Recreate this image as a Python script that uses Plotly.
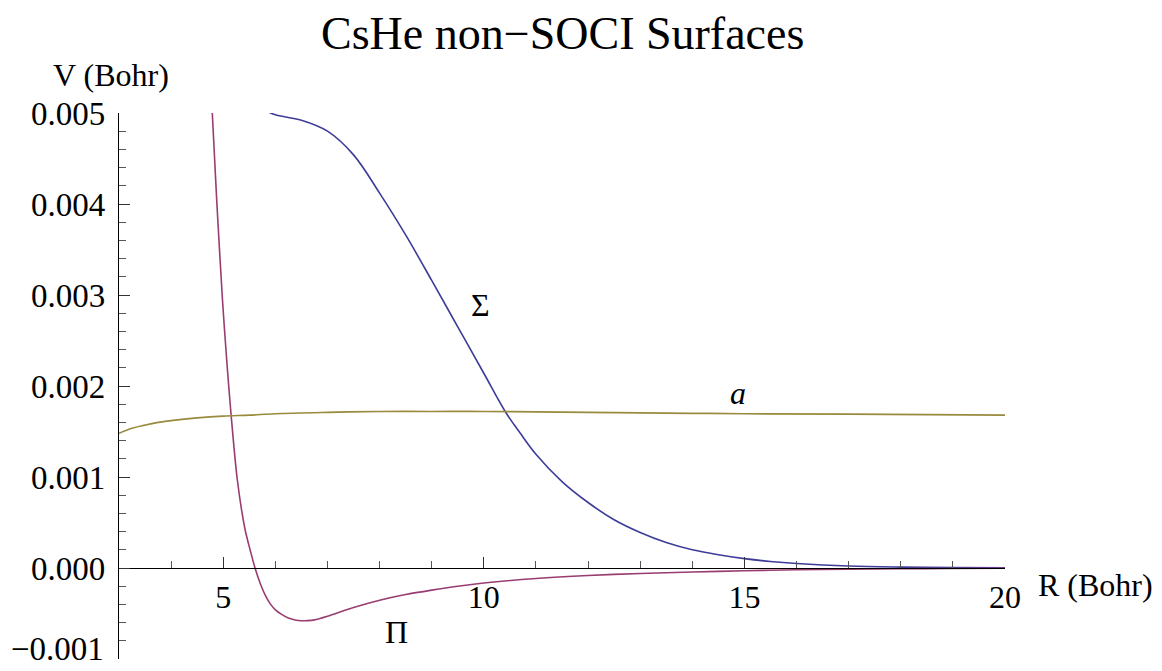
import plotly.graph_objects as go

# ---- data ----
sigma_r = [5.87, 6.0, 6.5, 7.0, 7.5, 8.0, 8.5, 9.0, 9.5, 10.0, 10.41, 10.7, 11.0,
           11.5, 12.0, 12.5, 13.0, 13.5, 14.0, 14.5, 15.0, 15.5, 16.0, 17.0, 18.0, 19.0, 20.0]
sigma_v = [0.00501, 0.00498, 0.00492, 0.00480, 0.00454, 0.00412, 0.00366, 0.00316,
           0.00265, 0.00214, 0.00172, 0.00148, 0.00125, 0.00095, 0.00072, 0.00053,
           0.00039, 0.00028, 0.00020, 0.000145, 0.000103, 0.000072, 0.00005, 0.000022,
           0.00001, 0.000004, 0.000002]

pi_r = [4.79, 4.875, 4.985, 5.07, 5.15, 5.27, 5.42, 5.52, 5.61, 5.71, 5.82, 5.91, 6.0,
        6.12, 6.25, 6.38, 6.5, 6.62, 6.75, 7.0, 7.5, 8.0, 8.5, 9.0, 9.5, 10.0, 11.0, 12.0,
        13.0, 14.0, 15.0, 16.0, 17.0, 18.0, 19.0, 20.0]
pi_v = [0.00500, 0.00404, 0.00295, 0.00226, 0.00169, 0.00097, 0.00042, 0.00019, 0.0,
        -0.00017, -0.000315, -0.0004, -0.00046, -0.00051, -0.00055, -0.000572, -0.00058,
        -0.000578, -0.00057, -0.00053, -0.000435, -0.000355, -0.000292, -0.000243,
        -0.0002, -0.000165, -0.000115, -0.000082, -0.00006, -0.000044, -0.00003,
        -0.00002, -0.000013, -0.000008, -0.000005, -0.000003]

a_r = [3.0, 3.25, 3.5, 3.75, 4.0, 4.5, 5.0, 5.5, 6.0, 7.0, 8.0, 9.0, 10.0, 11.0, 12.0,
       13.0, 14.0, 15.0, 17.0, 20.0]
a_v = [0.00148, 0.001535, 0.00157, 0.00160, 0.00162, 0.00165, 0.00167, 0.00168, 0.001695,
       0.00171, 0.00172, 0.00172, 0.00172, 0.001715, 0.00171, 0.001705, 0.00170, 0.001695,
       0.00169, 0.00168]

x_range = [3, 20]
y_range = [-0.001, 0.005]
y_ticks = [-0.001, 0.0, 0.001, 0.002, 0.003, 0.004, 0.005]
y_ticktext = ["\u22120.001", "0.000", "0.001", "0.002", "0.003", "0.004", "0.005"]
x_ticks = [5, 10, 15, 20]

title = "CsHe non\u2212SOCI Surfaces"
x_label = "R (Bohr)"
y_label = "V (Bohr)"

# curve labels (name, r, v)
labels = [("\u03a3", 9.93, 0.00289), ("<i>a</i>", 14.88, 0.00192), ("\u03a0", 8.32, -0.000703)]

FONT = "Liberation Serif, Times New Roman, serif"
C_SIGMA = "#3d3d99"
C_PI = "#993d71"
C_A = "#998b3d"

fig = go.Figure()
fig.add_trace(go.Scatter(x=sigma_r, y=sigma_v, mode="lines",
                         line=dict(color=C_SIGMA, width=1.6, shape="spline", smoothing=1.0)))
fig.add_trace(go.Scatter(x=pi_r, y=pi_v, mode="lines",
                         line=dict(color=C_PI, width=1.6, shape="spline", smoothing=0.8)))
fig.add_trace(go.Scatter(x=a_r, y=a_v, mode="lines",
                         line=dict(color=C_A, width=1.7, shape="spline", smoothing=1.0)))

eps = 1e-8
pos0 = (0 - y_range[0]) / (y_range[1] - y_range[0])

# the lowest y tick label sits slightly above its tick (as in the reference)
y_ticktext_axis = [""] + y_ticktext[1:]

fig.update_layout(
    template="none",
    width=1154, height=663,
    margin=dict(l=111, r=157, t=105, b=12, autoexpand=False),
    paper_bgcolor="white", plot_bgcolor="white",
    showlegend=False,
    font=dict(family=FONT, size=32, color="black"),
    xaxis=dict(range=x_range, showgrid=False, zeroline=False, automargin=False,
               showline=True, linecolor="black", linewidth=1.2,
               anchor="free", position=pos0,
               tickmode="array", tickvals=x_ticks, ticks="inside", ticklen=11,
               tickcolor="#333333", tickwidth=1,
               ticklabelstandoff=0,
               tickfont=dict(family=FONT, size=32, color="black"),
               minor=dict(ticks="inside", dtick=1, tick0=0, ticklen=7,
                          tickcolor="#555555", tickwidth=1, showgrid=False)),
    yaxis=dict(range=[y_range[0] - eps, y_range[1] + eps], showgrid=False, zeroline=False,
               automargin=False,
               showline=True, linecolor="black", linewidth=1.2,
               tickmode="array", tickvals=y_ticks, ticktext=y_ticktext_axis,
               ticks="inside", ticklen=11, tickcolor="#333333", tickwidth=1,
               ticklabelstandoff=6, ticklabeloverflow="allow",
               tickfont=dict(family=FONT, size=33, color="black"),
               minor=dict(ticks="inside", dtick=0.0002, tick0=0, ticklen=7,
                          tickcolor="#555555", tickwidth=1, showgrid=False)),
)

annotations = [
    dict(text=title, xref="paper", yref="paper", x=0.5, y=1.1447,
         xanchor="center", yanchor="middle", showarrow=False,
         font=dict(family=FONT, size=46, color="black")),
    dict(text=y_label, xref="paper", yref="paper", x=-0.009, y=1.0696,
         xanchor="center", yanchor="middle", showarrow=False,
         font=dict(family=FONT, size=32, color="black")),
    dict(text=x_label, xref="paper", yref="paper", x=1.035, y=0.1355,
         xanchor="left", yanchor="middle", showarrow=False,
         font=dict(family=FONT, size=32, color="black")),
    dict(text=y_ticktext[0], xref="paper", yref="paper", x=-0.0145, y=-0.0185,
         xanchor="right", yanchor="bottom", showarrow=False,
         font=dict(family=FONT, size=33, color="black")),
]
for name, r, v in labels:
    annotations.append(dict(text=name, x=r, y=v, xref="x", yref="y",
                            xanchor="center", yanchor="middle", showarrow=False,
                            font=dict(family=FONT, size=32, color="black")))
fig.update_layout(annotations=annotations)

fig.write_html("out.html")
